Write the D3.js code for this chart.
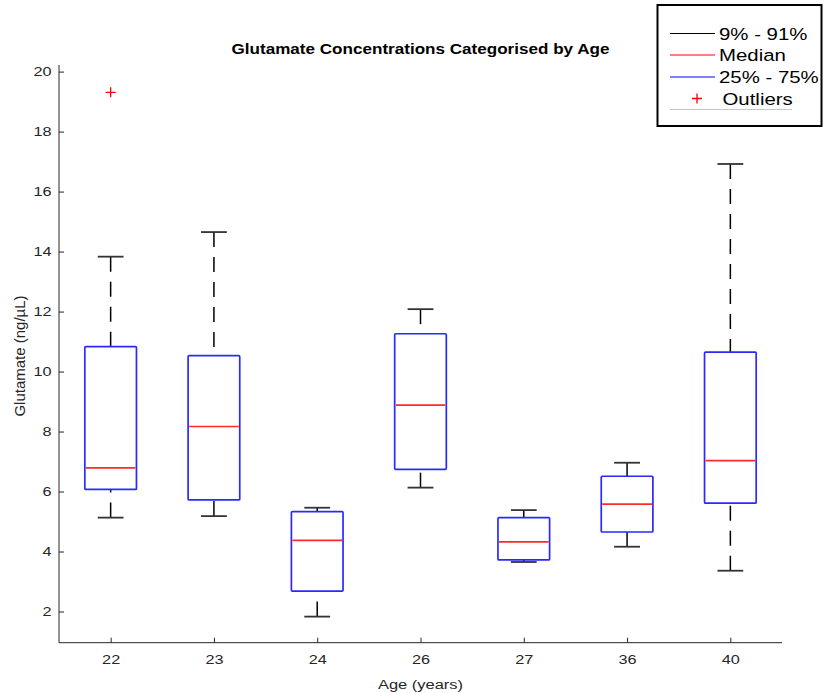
<!DOCTYPE html>
<html>
<head>
<meta charset="utf-8">
<script src="https://cdn.jsdelivr.net/npm/d3@7"></script>
<style>
  html, body { margin: 0; padding: 0; background: #fff; }
  svg { display: block; font-family: "Liberation Sans", Arial, Helvetica, sans-serif; }
</style>
</head>
<body>
<svg id="chart" width="824" height="693"></svg>
<script>
// ---- Data ----
const categories = ["22", "23", "24", "26", "27", "36", "40"];
const lowerWhisker = [5.13, 5.18, 1.83, 6.13, 3.65, 4.16, 3.36];
const q1 = [6.07, 5.72, 2.68, 6.74, 3.72, 4.65, 5.61];
const medians = [6.79, 8.17, 4.37, 8.88, 4.32, 5.58, 7.03];
const q3 = [10.83, 10.53, 5.33, 11.26, 5.13, 6.51, 10.65];
const upperWhisker = [13.83, 14.65, 5.46, 12.08, 5.38, 6.96, 16.92];
const outlierCategories = ["22"];
const outlierValues = [19.31];
const yTicks = [2, 4, 6, 8, 10, 12, 14, 16, 18, 20];
const legendLabels = ["9% - 91%", "Median", "25% - 75%", "Outliers"];

(function () {
// ---- Layout ----
const svg = d3.select("#chart");
const pLeft = 59, pRight = 782, pTop = 65, pBottom = 642.7;
const axisColor = "#262626";
const tickStretch = 1.25;

const x = d3.scalePoint().domain(categories).range([pLeft, pRight]).padding(0.5);
const y = d3.scaleLinear().domain([0.96, 20.22]).range([pBottom, pTop]);
const step = x.step();
const boxW = step * 0.5;
const capW = step * 0.25;

// ---- Axes ----
const yAxis = d3.axisLeft(y).tickValues(yTicks).tickSize(-5).tickPadding(10).tickFormat(d3.format("d"));
const gy = svg.append("g").attr("transform", `translate(${pLeft},0)`).call(yAxis);
const xAxis = d3.axisBottom(x).tickSize(-5).tickPadding(12);
const gx = svg.append("g").attr("transform", `translate(0,${pBottom})`).call(xAxis);
[gx, gy].forEach(g => {
  g.select(".domain").attr("stroke", axisColor).attr("stroke-width", 1);
  g.selectAll(".tick line").attr("stroke", axisColor).attr("stroke-width", 1);
  g.selectAll(".tick text").attr("fill", axisColor).style("font-size", "13px")
    .style("font-family", "'Liberation Sans', Arial, sans-serif");
});
gx.select(".domain").attr("d", `M${pLeft},0H${pRight}`);
gy.select(".domain").attr("d", `M0,${pBottom}V${pTop}`);
gy.selectAll(".tick text").attr("x", 0).attr("transform", `translate(-7.5,0) scale(${tickStretch},1)`);
gx.selectAll(".tick text").attr("transform", `scale(${tickStretch},1)`);

// ---- Boxes ----
const data = categories.map((c, i) => ({
  c, lo: lowerWhisker[i], q1: q1[i], med: medians[i], q3: q3[i], hi: upperWhisker[i]
}));
const g = svg.append("g");
data.forEach(d => {
  const cx = x(d.c);
  g.append("line").attr("x1", cx).attr("x2", cx).attr("y1", y(d.hi)).attr("y2", y(d.q3))
    .attr("stroke", "#000").attr("stroke-width", 1.5).attr("stroke-dasharray", "15,10");
  g.append("line").attr("x1", cx).attr("x2", cx).attr("y1", y(d.lo)).attr("y2", y(d.q1))
    .attr("stroke", "#000").attr("stroke-width", 1.5).attr("stroke-dasharray", "15,10");
  [d.hi, d.lo].forEach(v => {
    g.append("line").attr("x1", cx - capW / 2).attr("x2", cx + capW / 2).attr("y1", y(v)).attr("y2", y(v))
      .attr("stroke", "#333").attr("stroke-width", 1.8);
  });
  g.append("rect").attr("x", cx - boxW / 2).attr("y", y(d.q3)).attr("width", boxW)
    .attr("height", y(d.q1) - y(d.q3)).attr("fill", "none").attr("stroke", "#2a2aff")
    .attr("stroke-width", 1.7).attr("rx", 1);
  g.append("line").attr("x1", cx - boxW / 2 + 1).attr("x2", cx + boxW / 2 - 1)
    .attr("y1", y(d.med)).attr("y2", y(d.med)).attr("stroke", "#ff2a2a").attr("stroke-width", 1.6);
});
outlierCategories.forEach((c, i) => {
  const px = x(c), py = y(outlierValues[i]);
  g.append("path").attr("d", `M${px - 5},${py}H${px + 5}M${px},${py - 5}V${py + 5}`)
    .attr("stroke", "#ff0000").attr("stroke-width", 1.3);
});

// ---- Titles ----
const cxPlot = (pLeft + pRight) / 2;
svg.append("text").attr("transform", `translate(${cxPlot},54) scale(1.22,1)`).attr("text-anchor", "middle")
  .style("font-size", "14px").style("font-weight", "bold").attr("fill", "#000")
  .text("Glutamate Concentrations Categorised by Age");
svg.append("text").attr("transform", `translate(${cxPlot},689) scale(1.22,1)`).attr("text-anchor", "middle")
  .style("font-size", "13.5px").attr("fill", axisColor).text("Age (years)");
svg.append("text").attr("transform", `translate(25,356) rotate(-90)`)
  .attr("text-anchor", "middle").style("font-size", "15px").attr("fill", axisColor)
  .text("Glutamate (ng/µL)");

// ---- Legend ----
const lg = svg.append("g");
lg.append("rect").attr("x", 657.5).attr("y", 5).attr("width", 164).attr("height", 121)
  .attr("fill", "#fff").attr("stroke", "#000").attr("stroke-width", 2);
const legendColors = ["#000", "#ff0000", "#0000ff"];
const rowY = [33.5, 55, 77, 98.5];
legendLabels.forEach((lab, i) => {
  let tx = 719;
  if (i < 3) {
    lg.append("line").attr("x1", 670).attr("x2", 715).attr("y1", rowY[i]).attr("y2", rowY[i])
      .attr("stroke", legendColors[i]).attr("stroke-width", 1.2);
  } else {
    const px = 697, py = rowY[i];
    lg.append("path").attr("d", `M${px - 5},${py}H${px + 5}M${px},${py - 5}V${py + 5}`)
      .attr("stroke", "#ff0000").attr("stroke-width", 1.3);
    tx = 722.5;
  }
  lg.append("text").attr("transform", `translate(${tx},${rowY[i] + 6}) scale(1.2,1)`)
    .style("font-size", "17px").attr("fill", "#000").text(lab);
});
lg.append("line").attr("x1", 670).attr("x2", 792).attr("y1", 109.5).attr("y2", 109.5)
  .attr("stroke", "#c8c8c8").attr("stroke-width", 1);
})();
</script>
</body>
</html>
